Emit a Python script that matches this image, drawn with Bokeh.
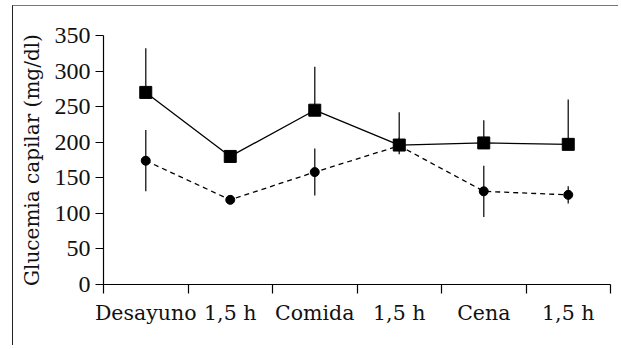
from bokeh.plotting import figure
from bokeh.models import FixedTicker, LinearAxis, Range1d
from bokeh.embed import file_html
from bokeh.resources import INLINE

categories = ["Desayuno", "1,5 h", "Comida", "1,5 h", "Cena", "1,5 h"]
x_pos = [0.5, 1.5, 2.5, 3.5, 4.5, 5.5]
boundaries = [0, 1, 2, 3, 4, 5, 6]
y_ticks = [0, 50, 100, 150, 200, 250, 300, 350]

sq_mean = [270, 180, 245, 196, 199, 197]
sq_err = [62, 4, 61, 46, 32, 63]
ci_mean = [174, 119, 158, 195, 131, 126]
ci_err = [43, 4, 33, 12, 36, 12]

W, H = 606, 340
p = figure(width=W, height=H, output_backend="svg", toolbar_location=None,
           x_range=Range1d(0, 6), y_range=Range1d(0, 350),
           x_axis_location=None, y_axis_location=None,
           min_border_left=90, min_border_right=W - 597,
           min_border_top=29, min_border_bottom=H - 278)
p.margin = (5, 0, 0, 12)
p.styles = {"border-top": "1px solid #777777", "border-left": "1px solid #222222"}
p.outline_line_color = None
p.grid.visible = False
p.background_fill_color = "white"
p.border_fill_color = "white"

xa = LinearAxis(ticker=FixedTicker(ticks=x_pos, minor_ticks=boundaries))
xa.major_label_overrides = {x: c for x, c in zip(x_pos, categories)}
xa.major_tick_line_color = None
xa.major_tick_out = 0
xa.major_tick_in = 0
xa.minor_tick_out = 9
xa.minor_tick_in = 0
xa.minor_tick_line_color = "black"
xa.minor_tick_line_width = 1.2
xa.axis_line_color = "black"
xa.axis_line_width = 1.2
xa.major_label_text_font = "DejaVu Serif"
xa.major_label_text_font_size = "20.5px"
xa.major_label_text_color = "#111111"
xa.major_label_standoff = 7
p.add_layout(xa, "below")

ya = LinearAxis(ticker=FixedTicker(ticks=y_ticks))
ya.minor_tick_line_color = None
ya.major_tick_out = 8
ya.major_tick_in = 0
ya.major_tick_line_color = "black"
ya.major_tick_line_width = 1.2
ya.axis_line_color = "black"
ya.axis_line_width = 1.2
ya.major_label_text_font = "Liberation Serif"
ya.major_label_text_font_size = "24px"
ya.major_label_text_color = "#111111"
ya.major_label_standoff = 5
ya.axis_label = "Glucemia capilar (mg/dl)"
ya.axis_label_text_font = "DejaVu Serif"
ya.axis_label_text_font_size = "20px"
ya.axis_label_text_font_style = "normal"
ya.axis_label_text_color = "#111111"
ya.axis_label_standoff = 8
p.add_layout(ya, "left")

sq_top = [m + e for m, e in zip(sq_mean, sq_err)]
ci_lo = [m - e for m, e in zip(ci_mean, ci_err)]
ci_hi = [m + e for m, e in zip(ci_mean, ci_err)]

# error bars
p.segment(x0=x_pos, y0=sq_mean, x1=x_pos, y1=sq_top, line_color="#333333", line_width=1.5)
p.segment(x0=x_pos, y0=ci_lo, x1=x_pos, y1=ci_hi, line_color="#333333", line_width=1.5)

# lines
p.line(x_pos, sq_mean, line_color="black", line_width=1.3)
p.line(x_pos, ci_mean, line_color="black", line_width=1.3, line_dash="5 4")

# markers
p.scatter(x_pos, sq_mean, marker="square", size=12, fill_color="black", line_color="black")
p.scatter(x_pos, ci_mean, marker="circle", size=9, fill_color="black", line_color="black")

open("out.html", "w").write(file_html(p, INLINE))
